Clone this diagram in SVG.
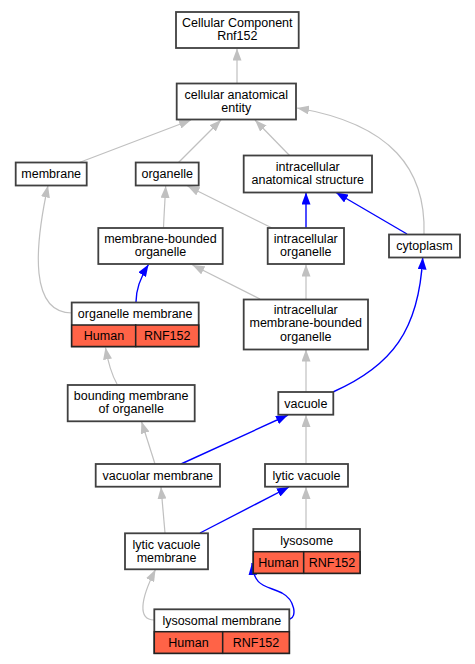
<svg xmlns="http://www.w3.org/2000/svg" width="475" height="664" viewBox="0 0 475 664">
<style>
.n{fill:#fff;stroke:#404040;stroke-width:1.8}
.h{fill:#ff6347;stroke:#222;stroke-width:1.5}
text{font-family:"Liberation Sans",Arial,sans-serif;font-size:12.5px;fill:#000;text-anchor:middle}
.g{fill:none;stroke:#c0c0c0;stroke-width:1.2;marker-end:url(#ag)}
.b{fill:none;stroke:#0000ff;stroke-width:1.4;marker-end:url(#ab)}
</style>
<defs>
<marker id="ag" viewBox="0 0 12 9" markerWidth="12" markerHeight="9" refX="12" refY="4.5" orient="auto" markerUnits="userSpaceOnUse"><path d="M0,0 L12,4.5 L0,9 z" fill="#c0c0c0"/></marker>
<marker id="ab" viewBox="0 0 12 9" markerWidth="12" markerHeight="9" refX="12" refY="4.5" orient="auto" markerUnits="userSpaceOnUse"><path d="M0,0 L12,4.5 L0,9 z" fill="#0000ff"/></marker>
</defs>
<rect width="475" height="664" fill="#fff"/>
<g id="edges">
<path class="g" d="M237,84 L237,48.5"/>
<path class="g" d="M78,163 L191,120"/>
<path class="g" d="M178,163 L221,120"/>
<path class="g" d="M290,156 L255,120"/>
<path class="g" d="M424,234 C426,170 392,124 297,108"/>
<path class="g" d="M163.5,228 C164,215 165,200 165.7,186"/>
<path class="g" d="M272,228 L187.5,186"/>
<path class="b" d="M306,228 L306,192.5"/>
<path class="b" d="M407,234 L336,192.5"/>
<path class="g" d="M72,313 C30,313 34,250 48,185.5"/>
<path class="b" d="M136,302 C136,290 140,278 148.5,264.5"/>
<path class="g" d="M260,299 L192.5,265"/>
<path class="g" d="M306,299 L306,264.5"/>
<path class="b" d="M333,392 C392,366 419,330 422.7,257.5"/>
<path class="g" d="M306,392 L306,349.5"/>
<path class="g" d="M117,384 C113,377 109,368 105.5,347.5"/>
<path class="g" d="M155,464 L141.5,421.5"/>
<path class="b" d="M181,464 L288,415"/>
<path class="g" d="M306,464 L306,415"/>
<path class="g" d="M165,533 L161,487"/>
<path class="b" d="M200,533 L289,487"/>
<path class="g" d="M306,529 L306,487"/>
<path class="g" d="M154,620 C138,620 140,600 155.5,569.5"/>
<path class="b" d="M290,619 C297,617 295,600 282,593 C266,585 254,588 252,563"/>
</g>
<g id="cc"><rect class="n" x="176" y="12" width="122.7" height="36"/><text x="237.3" y="26.5">Cellular Component</text><text x="237.3" y="39.5">Rnf152</text></g>
<g id="cae"><rect class="n" x="176.7" y="83.5" width="119.3" height="36"/><text x="236.3" y="98.5">cellular anatomical</text><text x="236.3" y="111.5">entity</text></g>
<g id="membrane"><rect class="n" x="15.7" y="162.5" width="71" height="23"/><text x="51.2" y="178">membrane</text></g>
<g id="organelle"><rect class="n" x="135.7" y="162.5" width="63" height="23"/><text x="167.2" y="178">organelle</text></g>
<g id="ias"><rect class="n" x="243.7" y="155.5" width="128.3" height="37"/><text x="307.8" y="171">intracellular</text><text x="307.8" y="184">anatomical structure</text></g>
<g id="mbo"><rect class="n" x="98.3" y="228" width="124.4" height="36"/><text x="160.5" y="243">membrane-bounded</text><text x="160.5" y="256">organelle</text></g>
<g id="io"><rect class="n" x="267.7" y="228" width="76.3" height="36"/><text x="305.8" y="243">intracellular</text><text x="305.8" y="256">organelle</text></g>
<g id="cytoplasm"><rect class="n" x="389" y="234.5" width="71" height="23"/><text x="424.5" y="250">cytoplasm</text></g>
<g id="om"><rect class="n" x="71.7" y="302.5" width="127" height="44"/><rect class="h" x="71.7" y="325" width="64" height="21.5"/><rect class="h" x="135.7" y="325" width="63" height="21.5"/><text x="135.2" y="318">organelle membrane</text><text x="104" y="340">Human</text><text x="167.2" y="340">RNF152</text></g>
<g id="imbo"><rect class="n" x="243.7" y="299.5" width="124.3" height="50"/><text x="305.8" y="313.5">intracellular</text><text x="305.8" y="327">membrane-bounded</text><text x="305.8" y="340.5">organelle</text></g>
<g id="bmo"><rect class="n" x="67.7" y="385" width="127" height="36.3"/><text x="131.2" y="400">bounding membrane</text><text x="131.2" y="413">of organelle</text></g>
<g id="vacuole"><rect class="n" x="278.3" y="392" width="55" height="22.7"/><text x="305.8" y="407.5">vacuole</text></g>
<g id="vm"><rect class="n" x="95.7" y="464" width="124.3" height="22.7"/><text x="157.8" y="479.5">vacuolar membrane</text></g>
<g id="lv"><rect class="n" x="265" y="464" width="83" height="22.7"/><text x="306.5" y="479.5">lytic vacuole</text></g>
<g id="lvm"><rect class="n" x="125" y="533.3" width="83" height="36"/><text x="166.5" y="548.5">lytic vacuole</text><text x="166.5" y="561.5">membrane</text></g>
<g id="lysosome"><rect class="n" x="253.3" y="529" width="106.7" height="44.3"/><rect class="h" x="253.3" y="551.7" width="50.4" height="21.6"/><rect class="h" x="303.7" y="551.7" width="56.3" height="21.6"/><text x="306.7" y="544.5">lysosome</text><text x="278.5" y="567">Human</text><text x="332" y="567">RNF152</text></g>
<g id="lm"><rect class="n" x="154.3" y="609.3" width="135" height="44"/><rect class="h" x="154.3" y="631.7" width="68.4" height="21.6"/><rect class="h" x="222.7" y="631.7" width="66.6" height="21.6"/><text x="221.8" y="625">lysosomal membrane</text><text x="188.5" y="647">Human</text><text x="256" y="647">RNF152</text></g>
</svg>
